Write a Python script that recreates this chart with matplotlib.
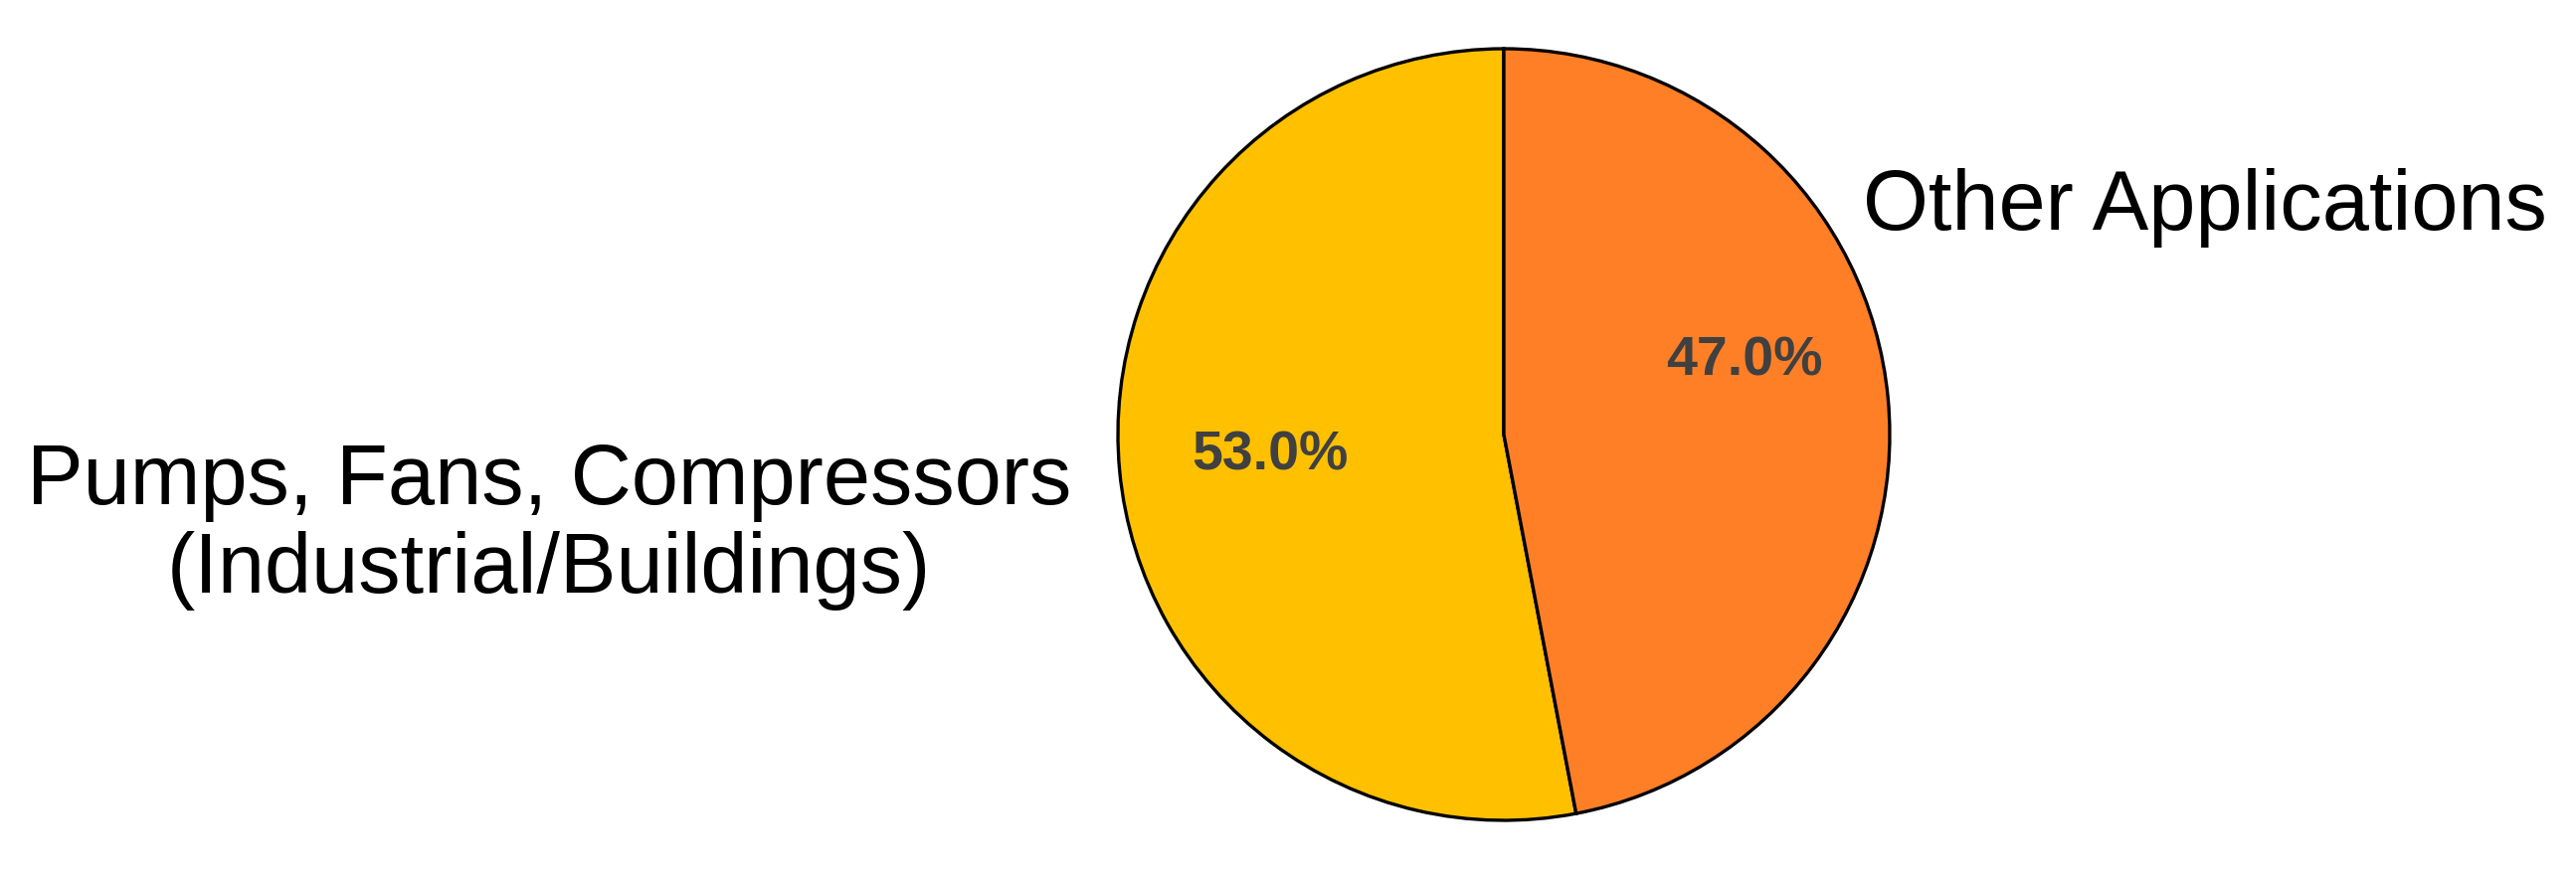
import matplotlib.pyplot as plt

plt.rcParams['font.family'] = ['Liberation Sans', 'DejaVu Sans']

labels = ['Pumps, Fans, Compressors\n(Industrial/Buildings)', 'Other Applications']
shares = [53.0, 47.0]
colors = ['#FFC000', '#FF7F27']

fig = plt.figure(figsize=(25.9, 8.87), dpi=100)
# pie centre at (1512, 449) px from bottom-left, radius ~388 px
r_px = 388
ax = fig.add_axes([(1512 - r_px) / 2590, (449 - r_px) / 887,
                   2 * r_px / 2590, 2 * r_px / 887])

wedges, texts, autotexts = ax.pie(
    shares, labels=labels, colors=colors, startangle=90, counterclock=True,
    autopct='%1.1f%%', pctdistance=0.62,
    wedgeprops=dict(edgecolor='black', linewidth=2.4),
    textprops=dict(fontsize=61),
)
ax.set_xlim(-1, 1)
ax.set_ylim(-1, 1)

# outside labels placed like the reference
texts[0].set_position((-1.12, -0.235))
texts[0].set_horizontalalignment('right')
texts[0].set_verticalalignment('center')
texts[0].set_multialignment('center')
texts[0].set_linespacing(1.15)
texts[1].set_position((0.93, 0.59))
texts[1].set_horizontalalignment('left')
texts[1].set_verticalalignment('center')

for t in autotexts:
    t.set_fontsize(40)
    t.set_fontweight('bold')
    t.set_color('#404040')
autotexts[0].set_position((-0.606, -0.052))
autotexts[1].set_position((0.624, 0.193))

fig.savefig('out.png', dpi=100, facecolor='white')
